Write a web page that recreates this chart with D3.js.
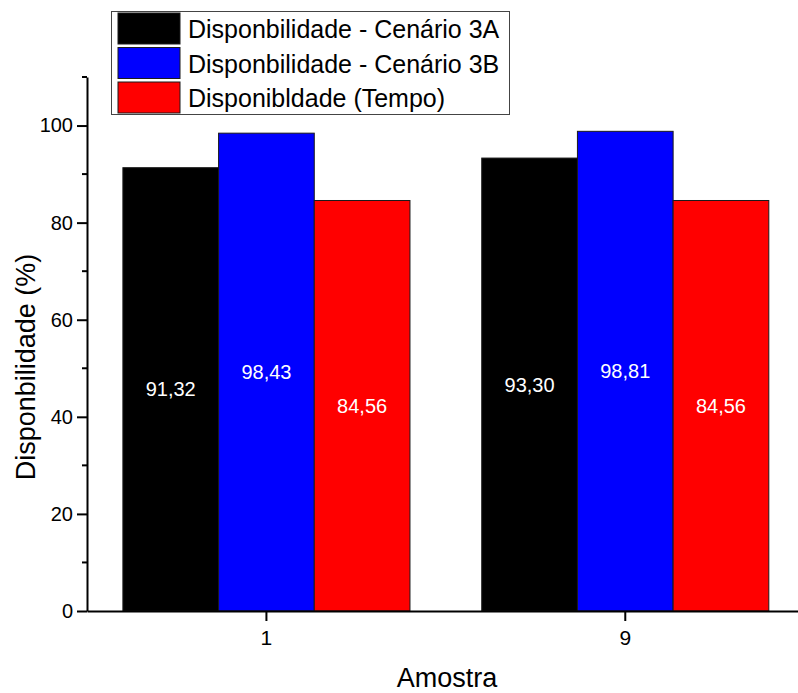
<!DOCTYPE html>
<html>
<head>
<meta charset="utf-8">
<script src="https://cdn.jsdelivr.net/npm/d3@7"></script>
<style>
  html, body { margin: 0; padding: 0; background: #fff; }
  svg { display: block; font-family: "Liberation Sans", Arial, sans-serif; }
</style>
</head>
<body>
<svg id="chart" width="798" height="693"></svg>
<script>
// Availability per sample, three scenarios
const categories = ["1", "9"];
const seriesNames = ["Disponbilidade - Cenário 3A", "Disponbilidade - Cenário 3B", "Disponibldade (Tempo)"];
const seriesColors = ["#000000", "#0000ff", "#ff0000"];
const cenario3A = [91.32, 93.30];
const cenario3B = [98.43, 98.81];
const tempo = [84.56, 84.56];
const yTicks = [0, 20, 40, 60, 80, 100];

const series = [cenario3A, cenario3B, tempo];
const svg = d3.select("#chart");
const FONT = "Liberation Sans, Arial, sans-serif";

const plot = { left: 87, right: 804.7, top: 77, bottom: 611 };

const x = d3.scaleBand()
  .domain(categories)
  .range([plot.left, plot.right])
  .paddingInner(0.2)
  .paddingOuter(0.1);

const xInner = d3.scaleBand()
  .domain(d3.range(series.length))
  .range([0, x.bandwidth()]);

const y = d3.scaleLinear()
  .domain([0, 110])
  .range([plot.bottom, plot.top]);

// Bars
const groups = svg.append("g")
  .selectAll("g")
  .data(categories)
  .join("g")
  .attr("transform", d => `translate(${x(d)},0)`);

groups.selectAll("rect")
  .data((c, ci) => series.map((s, si) => ({ si, v: s[ci] })))
  .join("rect")
  .attr("x", d => xInner(d.si))
  .attr("y", d => y(d.v))
  .attr("width", xInner.bandwidth())
  .attr("height", d => y(0) - y(d.v))
  .attr("fill", d => seriesColors[d.si])
  .attr("stroke", "#1a1a1a")
  .attr("stroke-width", 1);

// Value labels placed at mid-height of each bar
groups.selectAll("text")
  .data((c, ci) => series.map((s, si) => ({ si, v: s[ci] })))
  .join("text")
  .attr("x", d => xInner(d.si) + xInner.bandwidth() / 2)
  .attr("y", d => y(d.v / 2))
  .attr("dy", "0.35em")
  .attr("text-anchor", "middle")
  .attr("fill", "#ffffff")
  .attr("font-size", 20)
  .text(d => d3.format(".2f")(d.v).replace(".", ","));

// Y axis
const yAxis = svg.append("g")
  .attr("transform", `translate(${plot.left},0)`)
  .call(d3.axisLeft(y).tickValues(yTicks).tickSize(10).tickPadding(4).tickSizeOuter(0));
yAxis.select(".domain").attr("stroke-width", 2);
yAxis.selectAll(".tick line").attr("stroke-width", 2);
yAxis.selectAll(".tick text").attr("font-size", 20).attr("fill", "#000")
  .attr("font-family", FONT);

// Minor ticks on y
svg.append("g")
  .selectAll("line")
  .data(d3.range(10, 111, 20))
  .join("line")
  .attr("x1", plot.left - 5)
  .attr("x2", plot.left)
  .attr("y1", d => y(d))
  .attr("y2", d => y(d))
  .attr("stroke", "#000")
  .attr("stroke-width", 2);

// X axis
const xAxis = svg.append("g")
  .attr("transform", `translate(0,${plot.bottom})`)
  .call(d3.axisBottom(x).tickSize(10).tickPadding(9).tickSizeOuter(0));
xAxis.select(".domain").attr("stroke-width", 2);
xAxis.selectAll(".tick line").attr("stroke-width", 2);
xAxis.selectAll(".tick text").attr("font-size", 21).attr("fill", "#000")
  .attr("font-family", FONT);

// Axis titles
svg.append("text")
  .attr("x", 447)
  .attr("y", 687)
  .attr("text-anchor", "middle")
  .attr("font-size", 27)
  .text("Amostra");

svg.append("text")
  .attr("transform", `translate(35,${367}) rotate(-90)`)
  .attr("text-anchor", "middle")
  .attr("font-size", 27)
  .text("Disponbilidade (%)");

// Legend
const legend = svg.append("g");
legend.append("rect")
  .attr("x", 111.5).attr("y", 11.5)
  .attr("width", 398).attr("height", 103)
  .attr("fill", "#fff")
  .attr("stroke", "#444").attr("stroke-width", 1);

const rowH = 34.5;
const rows = legend.selectAll("g.row")
  .data(seriesNames)
  .join("g")
  .attr("class", "row")
  .attr("transform", (d, i) => `translate(118,${13 + i * rowH})`);

rows.append("rect")
  .attr("width", 62).attr("height", 31)
  .attr("fill", (d, i) => seriesColors[i])
  .attr("stroke", "#1a1a1a").attr("stroke-width", 1);

rows.append("text")
  .attr("x", 70)
  .attr("y", 16)
  .attr("dy", "0.36em")
  .attr("font-size", 25)
  .text(d => d);
</script>
</body>
</html>
